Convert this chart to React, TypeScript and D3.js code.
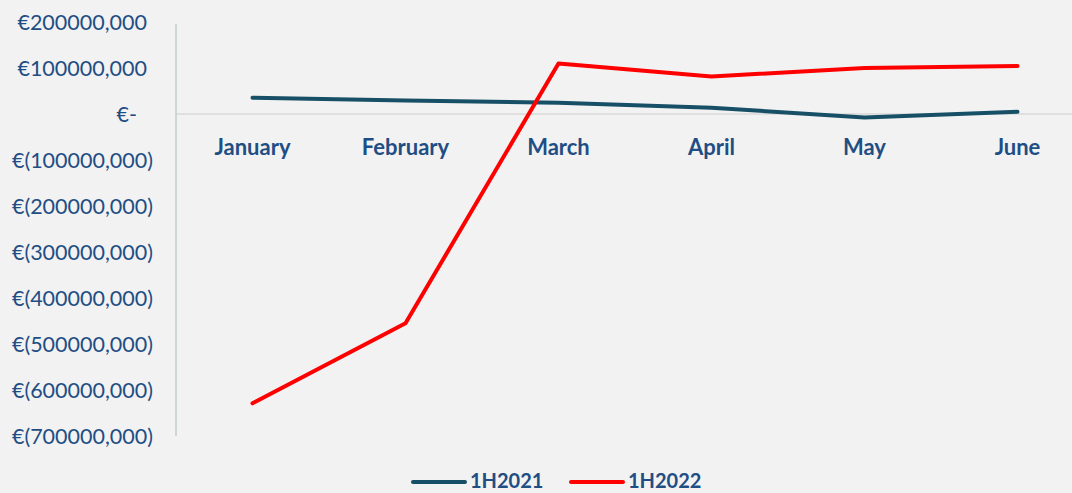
import { useEffect, useRef } from 'react'
import * as d3 from 'd3'

const months = ['January', 'February', 'March', 'April', 'May', 'June']
const values2021 = [35200000, 29300000, 24600000, 13700000, -7600000, 4800000]
const values2022 = [-629000000, -455000000, 109800000, 81500000, 100200000, 104600000]
const yTicks = [200000000, 100000000, 0, -100000000, -200000000, -300000000, -400000000, -500000000, -600000000, -700000000]
const seriesNames = ['1H2021', '1H2022']
const seriesColors = ['#174f66', '#ff0000']

const fmt = (v: number) => {
    if (v === 0) return '€-'
    const s = d3.format(',')(Math.abs(v)).replace(/,(?=\d{3},)/, '')
    return v < 0 ? `€(${s})` : `€${s}`
}

// accounting style: positives leave room for the closing paren
const labelRight = (v: number) => (v < 0 ? 153 : v > 0 ? 147 : 137)

function App() {
    const ref = useRef<SVGSVGElement>(null)

    useEffect(() => {
        const width = 1072
        const height = 493
        const svg = d3.select(ref.current)
        svg.selectAll('*').remove()

        svg.append('rect')
            .attr('width', width)
            .attr('height', height)
            .attr('fill', '#f2f2f2')

        const xScale = d3
            .scaleBand()
            .domain(months)
            .range([176, 1094])

        const yScale = d3
            .scaleLinear()
            .domain([-700000000, 200000000])
            .range([436, 22])

        // zero line
        svg.append('line')
            .attr('x1', 176)
            .attr('x2', width)
            .attr('y1', yScale(0))
            .attr('y2', yScale(0))
            .style('stroke', '#d9d9d9')
            .style('stroke-width', 1.5)

        // y axis line
        svg.append('line')
            .attr('x1', 176)
            .attr('x2', 176)
            .attr('y1', 24)
            .attr('y2', 436)
            .style('stroke', '#c3cccc')
            .style('stroke-width', 1.5)

        svg.append('g')
            .selectAll('text')
            .data(yTicks)
            .enter()
            .append('text')
            .attr('x', d => labelRight(d))
            .attr('y', d => yScale(d))
            .attr('dy', '0.35em')
            .style('text-anchor', 'end')
            .style('font-family', 'Lato, sans-serif')
            .style('font-size', '21.5px')
            .style('fill', '#1f4e84')
            .text(d => fmt(d))

        svg.append('g')
            .selectAll('text')
            .data(months)
            .enter()
            .append('text')
            .attr('x', d => (xScale(d) as number) + xScale.bandwidth() / 2)
            .attr('y', 147)
            .attr('dy', '0.35em')
            .style('text-anchor', 'middle')
            .style('font-family', 'Lato, sans-serif')
            .style('font-weight', 'bold')
            .style('font-size', '22px')
            .style('fill', '#1f4e84')
            .text(d => d)

        const path = d3
            .line<number>()
            .x((d, i) => (xScale(months[i]) as number) + xScale.bandwidth() / 2)
            .y(d => yScale(d))

        ;[values2021, values2022].forEach((vals, i) => {
            svg.append('path')
                .datum(vals)
                .attr('d', path)
                .style('fill', 'none')
                .style('stroke', seriesColors[i])
                .style('stroke-width', 4)
                .style('stroke-linecap', 'round')
                .style('stroke-linejoin', 'round')
        })

        // legend
        const legendX = [413, 571]
        seriesNames.forEach((name, i) => {
            svg.append('line')
                .attr('x1', legendX[i])
                .attr('x2', legendX[i] + 52)
                .attr('y1', 482)
                .attr('y2', 482)
                .style('stroke', seriesColors[i])
                .style('stroke-width', 4)
                .style('stroke-linecap', 'round')
            svg.append('text')
                .attr('x', legendX[i] + 57)
                .attr('y', 488)
                .style('font-family', 'Lato, sans-serif')
                .style('font-weight', 'bold')
                .style('font-size', '20px')
                .style('fill', '#1f4e84')
                .text(name)
        })
    })

    return (
        <div style={{ position: 'absolute', left: 0, top: 0 }}>
            <svg ref={ref} width={1072} height={493} style={{ display: 'block' }} />
        </div>
    )
}

export default App
